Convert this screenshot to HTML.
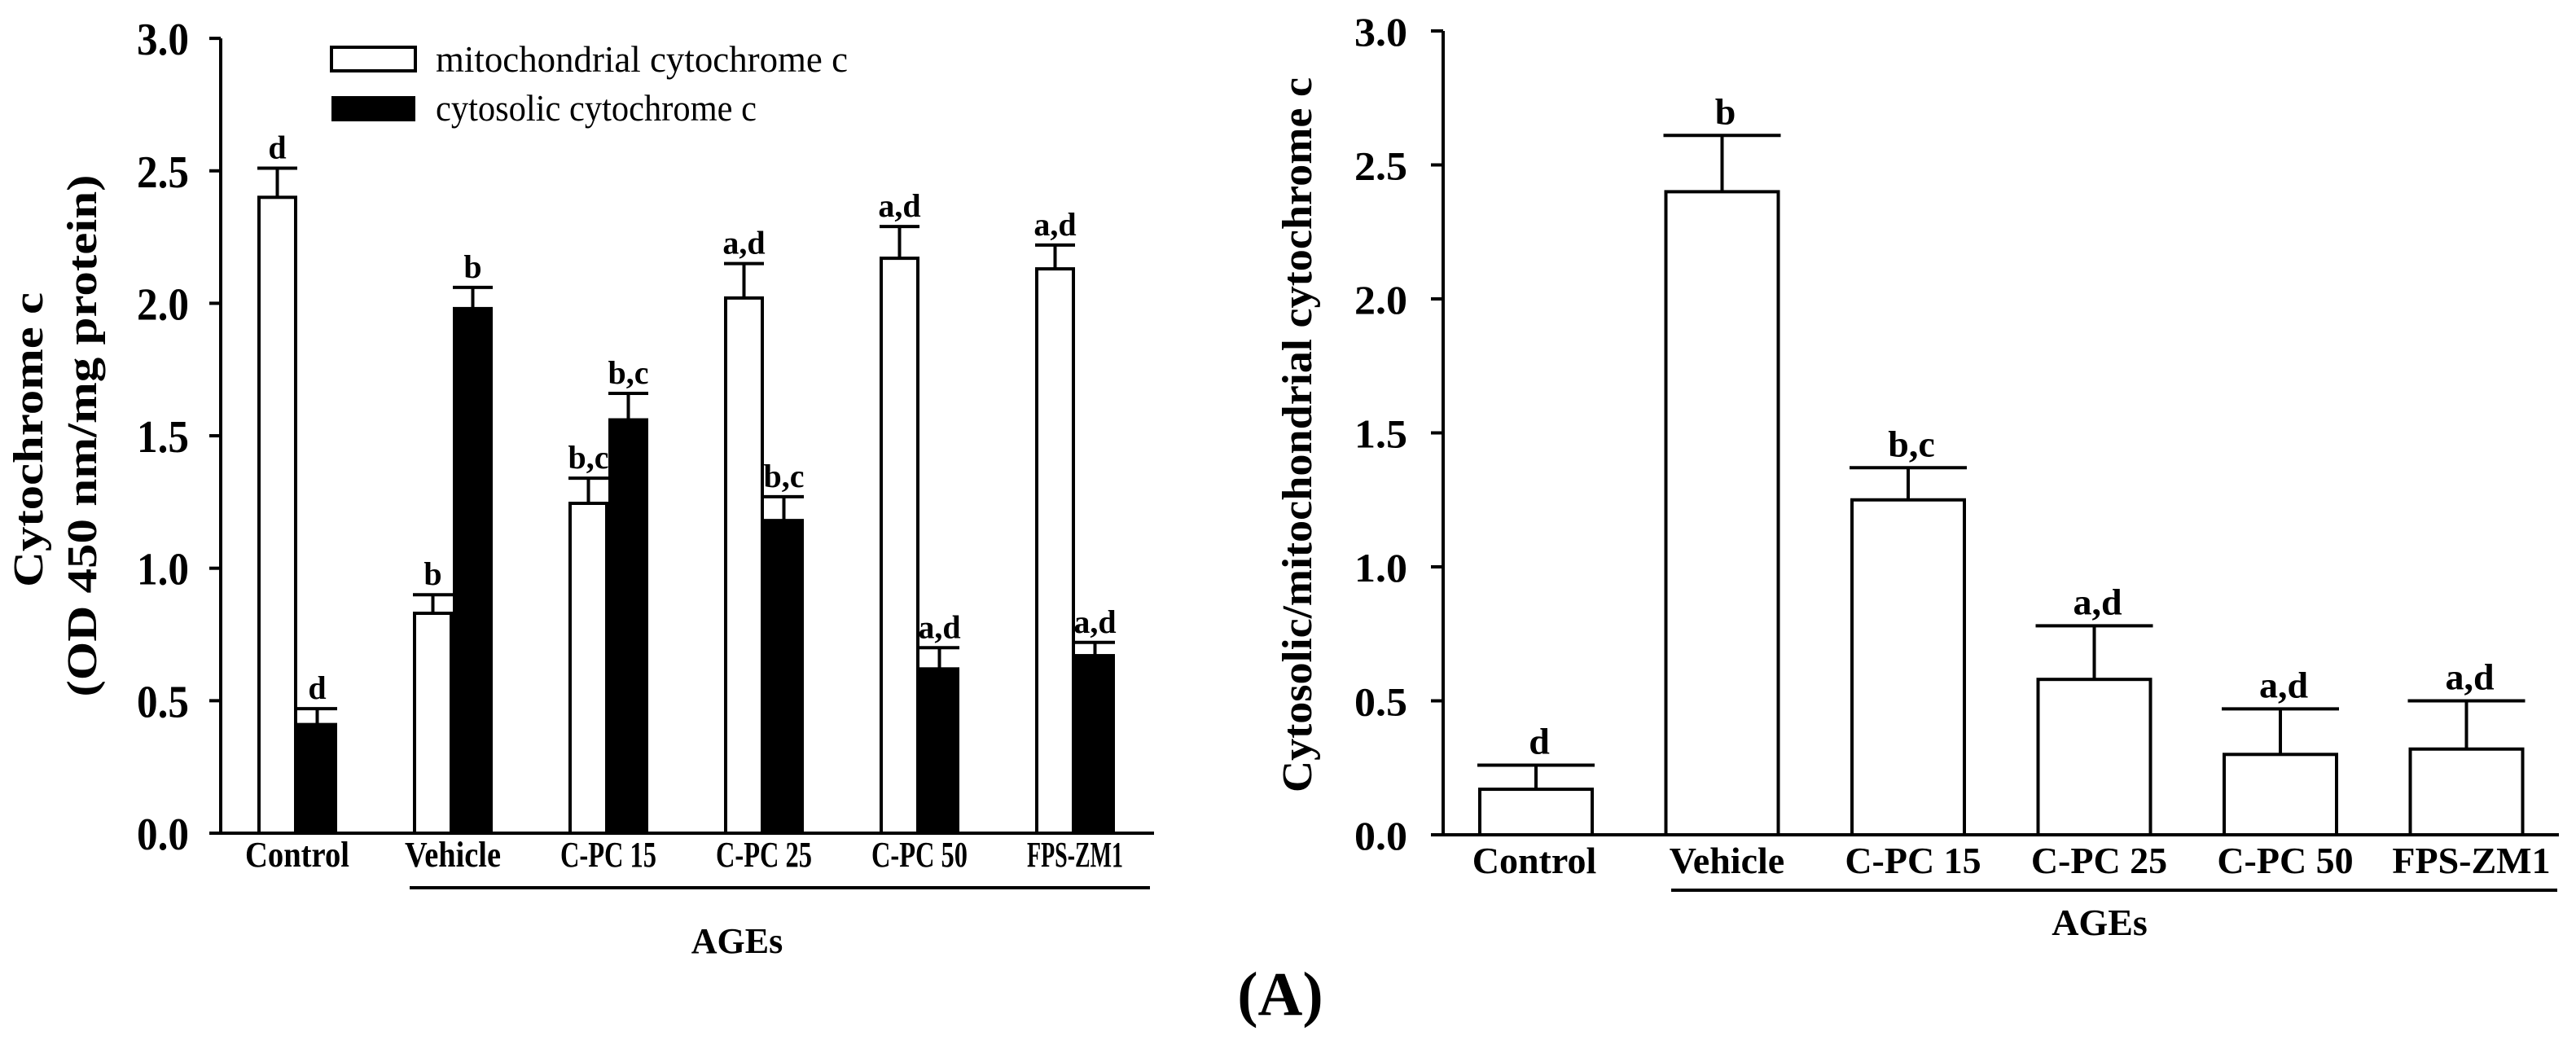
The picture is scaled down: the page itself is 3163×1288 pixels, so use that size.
<!DOCTYPE html>
<html><head><meta charset="utf-8"><style>
html,body{margin:0;padding:0;background:#fff;}
svg{display:block;}
text{font-family:"Liberation Serif",serif;fill:#000;}
</style></head><body>
<svg id="fig" width="3163" height="1288" viewBox="0 0 3163 1288" xmlns="http://www.w3.org/2000/svg">
<g id="left"></g>
<g id="right"></g>
<text x="1572" y="1246" font-size="76" font-weight="bold" text-anchor="middle">(A)</text>
</svg>
<script>
const categories = ["Control","Vehicle","C-PC 15","C-PC 25","C-PC 50","FPS-ZM1"];
const mitoValues = [2.40,0.83,1.245,2.02,2.17,2.13];
const mitoErr = [0.11,0.07,0.095,0.13,0.12,0.09];
const cytoValues = [0.41,1.98,1.56,1.18,0.62,0.67];
const cytoErr = [0.06,0.08,0.10,0.09,0.08,0.05];
const mitoSig = ["d","b","b,c","a,d","a,d","a,d"];
const cytoSig = ["d","b","b,c","b,c","a,d","a,d"];
const ratioValues = [0.17,2.40,1.25,0.58,0.30,0.32];
const ratioErr = [0.09,0.21,0.12,0.20,0.17,0.18];
const ratioSig = ["d","b","b,c","a,d","a,d","a,d"];
const yTicks = [0,0.5,1.0,1.5,2.0,2.5,3.0];
const yTickLabels = ["0.0","0.5","1.0","1.5","2.0","2.5","3.0"];

const NS="http://www.w3.org/2000/svg";
function mk(parent,tag,attrs,txt){const e=document.createElementNS(NS,tag);for(const k in attrs)e.setAttribute(k,attrs[k]);if(txt!==undefined)e.textContent=txt;parent.appendChild(e);return e;}

// ---------- LEFT ----------
const L=document.getElementById('left');
const lY=v=>1023-v*325.3;
const lX=i=>365+i*191;
const bw=45;
// y axis
let e=mk(L,'line',{x1:271,y1:lY(3),x2:271,y2:lY(0),stroke:'#000','stroke-width':4});

e=mk(L,'line',{x1:257,y1:lY(0),x2:1417,y2:lY(0),stroke:'#000','stroke-width':4});

yTicks.forEach((t,i)=>{
  let tk=mk(L,'line',{x1:257,y1:lY(t),x2:271,y2:lY(t),stroke:'#000','stroke-width':4});
  
  let tl=mk(L,'text',{x:168,y:lY(t)+20,'font-size':56,'font-weight':'bold',textLength:64,lengthAdjust:'spacingAndGlyphs'},yTickLabels[i]);
  
});
categories.forEach((c,i)=>{
  const cx=lX(i);
  // mito
  const mx=cx-bw-2, my=lY(mitoValues[i]), me=lY(mitoValues[i]+mitoErr[i]);
  let b=mk(L,'rect',{x:mx,y:my,width:bw,height:lY(0)-my,fill:'#fff',stroke:'#000','stroke-width':4});
  
  let eb=mk(L,'path',{d:`M${mx+bw/2},${my}V${me}M${mx-2},${me}H${mx+bw+2}`,stroke:'#000','stroke-width':4,fill:'none'});
  
  let s=mk(L,'text',{x:mx+bw/2,y:me-12,'font-size':40,'font-weight':'bold','text-anchor':'middle'},mitoSig[i]);
  
  // cyto
  const kx=cx+2, ky=lY(cytoValues[i]), ke=lY(cytoValues[i]+cytoErr[i]);
  b=mk(L,'rect',{x:kx,y:ky,width:bw,height:lY(0)-ky,fill:'#000',stroke:'#000','stroke-width':4});
  
  eb=mk(L,'path',{d:`M${kx+bw/2},${ky}V${ke}M${kx-2},${ke}H${kx+bw+2}`,stroke:'#000','stroke-width':4,fill:'none'});
  
  s=mk(L,'text',{x:kx+bw/2,y:ke-12,'font-size':40,'font-weight':'bold','text-anchor':'middle'},cytoSig[i]);
  
  let lab=mk(L,'text',{x:cx,y:1064,'font-size':44,'font-weight':'bold','text-anchor':'middle',textLength:i==0?128:118,lengthAdjust:'spacingAndGlyphs'},c);
  
});
e=mk(L,'line',{x1:503,y1:1090,x2:1412,y2:1090,stroke:'#000','stroke-width':4});

e=mk(L,'text',{x:905,y:1170,'font-size':44,'font-weight':'bold','text-anchor':'middle'},'AGEs');

e=mk(L,'text',{x:0,y:0,'font-size':52,'font-weight':'bold','text-anchor':'middle',transform:'translate(52,540) rotate(-90)',textLength:362,lengthAdjust:'spacingAndGlyphs'},'Cytochrome c');

e=mk(L,'text',{x:0,y:0,'font-size':52,'font-weight':'bold','text-anchor':'middle',transform:'translate(118,535) rotate(-90)',textLength:641,lengthAdjust:'spacingAndGlyphs'},'(OD 450 nm/mg protein)');

// legend
e=mk(L,'rect',{x:407,y:58,width:103,height:29,fill:'#fff',stroke:'#000','stroke-width':4});

e=mk(L,'text',{x:535,y:88,'font-size':46,textLength:506,lengthAdjust:'spacingAndGlyphs'},'mitochondrial  cytochrome c');

e=mk(L,'rect',{x:407,y:118,width:103,height:31,fill:'#000'});

e=mk(L,'text',{x:535,y:148,'font-size':46,textLength:394,lengthAdjust:'spacingAndGlyphs'},'cytosolic cytochrome c');


// ---------- RIGHT ----------
const R=document.getElementById('right');
const rY=v=>1025-v*329;
const rX=i=>1886+i*228.5;
const rbw=138;
e=mk(R,'line',{x1:1772,y1:rY(3),x2:1772,y2:rY(0),stroke:'#000','stroke-width':4});

e=mk(R,'line',{x1:1757,y1:rY(0),x2:3142,y2:rY(0),stroke:'#000','stroke-width':4});

yTicks.forEach((t,i)=>{
  let tk=mk(R,'line',{x1:1757,y1:rY(t),x2:1772,y2:rY(t),stroke:'#000','stroke-width':4});
  
  let tl=mk(R,'text',{x:1663,y:rY(t)+18,'font-size':50,'font-weight':'bold',textLength:65,lengthAdjust:'spacingAndGlyphs'},yTickLabels[i]);
  
});
categories.forEach((c,i)=>{
  const cx=rX(i), x=cx-rbw/2, y=rY(ratioValues[i]), ye=rY(ratioValues[i]+ratioErr[i]);
  let b=mk(R,'rect',{x:x,y:y,width:rbw,height:rY(0)-y,fill:'#fff',stroke:'#000','stroke-width':4});
  
  let eb=mk(R,'path',{d:`M${cx},${y}V${ye}M${x-3},${ye}H${x+rbw+3}`,stroke:'#000','stroke-width':4,fill:'none'});
  
  let s=mk(R,'text',{x:cx+4,y:ye-14,'font-size':46,'font-weight':'bold','text-anchor':'middle'},ratioSig[i]);
  
  let lab=mk(R,'text',{x:cx+(i==0?-2:6),y:1072,'font-size':46,'font-weight':'bold','text-anchor':'middle'},c);
  
});
e=mk(R,'line',{x1:2052,y1:1093,x2:3140,y2:1093,stroke:'#000','stroke-width':4});

e=mk(R,'text',{x:2578,y:1148,'font-size':46,'font-weight':'bold','text-anchor':'middle'},'AGEs');

e=mk(R,'text',{x:0,y:0,'font-size':52,'font-weight':'bold','text-anchor':'middle',transform:'translate(1610,534) rotate(-90)',textLength:878,lengthAdjust:'spacingAndGlyphs'},'Cytosolic/mitochondrial  cytochrome c');

</script>
</body></html>
